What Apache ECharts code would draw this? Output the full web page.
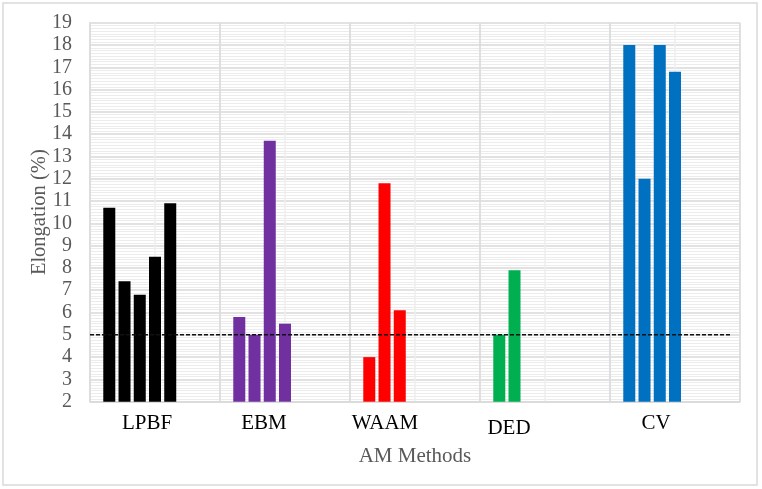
<!DOCTYPE html>
<html>
<head>
<meta charset="utf-8">
<script src="https://cdn.jsdelivr.net/npm/echarts@6/dist/echarts.min.js"></script>
<style>
html,body{margin:0;padding:0;background:#fff;}
#chart{width:762px;height:489px;}
</style>
</head>
<body>
<div id="chart"></div>
<script>
// ---- data ----
var categories = ['LPBF', 'EBM', 'WAAM', 'DED', 'CV'];
var LPBF = [10.7, 7.4, 6.8, 8.5, 10.9];
var EBM = [5.8, 5.0, 13.7, 5.5];
var WAAM = [4.0, 11.8, 6.1];
var DED = [5.0, 7.9];
var CV = [18, 12, 18, 16.8];
var groupColors = ['#000000', '#7030A0', '#FF0000', '#00B050', '#0070C0'];
var slotCount = 7;              // bar slots per category (Excel series count)
var thresholdValue = 5;         // dashed reference line
var thresholdExtent = [0, 9.85];// extent along the category span (category units x2)
var yTicks = {min: 2, max: 19, interval: 1};

// label offsets (text boxes centered on the bar groups)
var labelShift = {LPBF: 16, EBM: 42, WAAM: 60, DED: 72, CV: 38};
var labelDrop = {LPBF: 0, EBM: 0, WAAM: 0, DED: 5, CV: 0};

var groups = [LPBF, EBM, WAAM, DED, CV];
var series = [];
for (var s = 0; s < slotCount; s++) {
  var d = [];
  for (var c = 0; c < groups.length; c++) {
    var v = groups[c][s];
    d.push(v === undefined ? null : {value: v, itemStyle: {color: groupColors[c]}});
  }
  series.push({
    type: 'bar',
    xAxisIndex: 0,
    yAxisIndex: 0,
    data: d,
    barWidth: 12,
    barGap: '27%',
    silent: true
  });
}
series.push({
  type: 'line',
  xAxisIndex: 1,
  yAxisIndex: 0,
  data: [[thresholdExtent[0], thresholdValue], [thresholdExtent[1], thresholdValue]],
  symbol: 'none',
  clip: false,
  z: 5,
  lineStyle: {color: '#111111', width: 1.6, type: [4, 2]},
  silent: true
});

var rich = {};
categories.forEach(function (name) {
  rich[name] = {
    fontFamily: 'Liberation Serif',
    fontSize: 21,
    color: '#000',
    padding: [labelDrop[name], labelShift[name], 0, 0]
  };
});

var chart = echarts.init(document.getElementById('chart'));
chart.setOption({
  backgroundColor: '#fff',
  animation: false,
  graphic: [{
    type: 'rect',
    shape: {x: 3, y: 3, width: 754, height: 482},
    style: {fill: 'none', stroke: '#d9d9d9', lineWidth: 1.5},
    silent: true
  }],
  grid: {left: 90, right: 22, top: 22.7, bottom: 87.3, containLabel: false},
  xAxis: [{
    type: 'category',
    data: categories,
    z: 2,
    name: 'AM Methods',
    nameLocation: 'middle',
    nameGap: 44,
    nameMoveOverlap: false,
    nameTextStyle: {fontFamily: 'Liberation Serif', fontSize: 21, color: '#595959'},
    axisLine: {show: true, lineStyle: {color: '#d9d9d9', width: 1.5}},
    axisTick: {show: false},
    splitLine: {show: true, lineStyle: {color: '#d9d9d9', width: 1.5}},
    axisLabel: {
      margin: 11,
      formatter: function (v) { return '{' + v + '|' + v + '}'; },
      rich: rich
    }
  }, {
    type: 'value',
    min: 0,
    max: 10,
    interval: 1,
    show: true,
    position: 'bottom',
    z: 1,
    axisLine: {show: false},
    axisTick: {show: false},
    axisLabel: {show: false},
    splitLine: {show: true, lineStyle: {color: '#eeeeee', width: 1.5}}
  }],
  yAxis: [{
    type: 'value',
    min: yTicks.min,
    max: yTicks.max,
    interval: yTicks.interval,
    name: 'Elongation (%)',
    nameLocation: 'middle',
    nameGap: 40,
    nameMoveOverlap: false,
    nameTextStyle: {fontFamily: 'Liberation Serif', fontSize: 20.5, color: '#595959'},
    axisLine: {show: true, lineStyle: {color: '#d9d9d9', width: 1.5}},
    axisTick: {show: false},
    axisLabel: {fontFamily: 'Liberation Serif', fontSize: 20, color: '#595959', margin: 18},
    splitLine: {show: true, lineStyle: {color: '#d9d9d9', width: 1.5}},
    minorTick: {show: false, splitNumber: 8},
    minorSplitLine: {show: true, lineStyle: {color: '#ececec', width: 1}}
  }],
  series: series
});
</script>
</body>
</html>
